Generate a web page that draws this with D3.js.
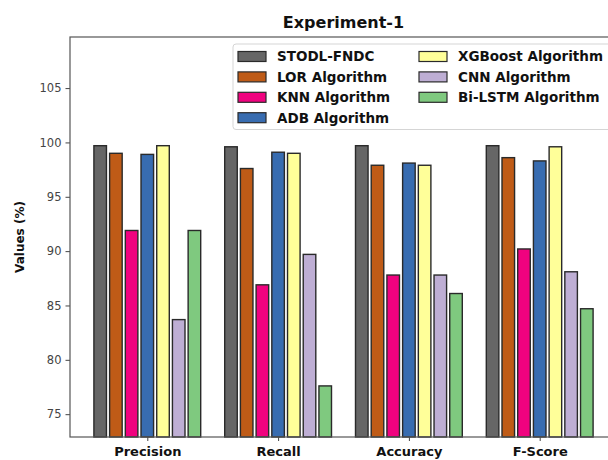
<!DOCTYPE html>
<html>
<head>
<meta charset="utf-8">
<script src="https://cdn.jsdelivr.net/npm/d3@7"></script>
<style>
  body { margin: 0; background: #fff; }
  svg { display: block; font-family: "DejaVu Sans", sans-serif; }
</style>
</head>
<body>
<svg id="chart" width="608" height="460"></svg>
<script>
const categories = ['Precision', 'Recall', 'Accuracy', 'F-Score'];
const seriesNames = ['STODL-FNDC', 'LOR Algorithm', 'KNN Algorithm', 'ADB Algorithm',
                     'XGBoost Algorithm', 'CNN Algorithm', 'Bi-LSTM Algorithm'];
const colors = ['#666666', '#bf5b17', '#f0027f', '#386cb0', '#ffff99', '#beaed4', '#7fc97f'];
// values per series, in category order
const stodl   = [99.7, 99.6, 99.7, 99.7];
const lor     = [99.0, 97.6, 97.9, 98.6];
const knn     = [91.9, 86.9, 87.8, 90.2];
const adb     = [98.9, 99.1, 98.1, 98.3];
const xgboost = [99.7, 99.0, 97.9, 99.6];
const cnn     = [83.7, 89.7, 87.8, 88.1];
const bilstm  = [91.9, 77.6, 86.1, 84.7];
const yTicks  = [75, 80, 85, 90, 95, 100, 105];

const seriesValues = [stodl, lor, knn, adb, xgboost, cnn, bilstm];

const svg = d3.select('#chart');
const margin = {top: 37, left: 70, bottom: 437, right: 617};

const x = d3.scalePoint()
  .domain(categories)
  .range([margin.left, margin.right])
  .padding(0.591);

const inner = d3.scaleBand()
  .domain(seriesNames)
  .range([-53.4, 53.4])
  .paddingInner(0.2)
  .paddingOuter(0);

const y = d3.scaleLinear()
  .domain([72.9, 109.7])
  .range([margin.bottom, margin.top]);

// bars
const rows = [];
seriesNames.forEach((s, j) => {
  categories.forEach((c, i) => rows.push({series: s, cat: c, value: seriesValues[j][i], color: colors[j]}));
});

svg.append('g')
  .selectAll('rect')
  .data(rows)
  .enter().append('rect')
  .attr('x', d => x(d.cat) + inner(d.series))
  .attr('y', d => y(d.value))
  .attr('width', inner.bandwidth())
  .attr('height', d => y.range()[0] - y(d.value))
  .attr('fill', d => d.color)
  .attr('stroke', '#2a2a2a')
  .attr('stroke-width', 1.4);

// y axis
const yAxis = svg.append('g')
  .attr('transform', `translate(${margin.left},0)`)
  .call(d3.axisLeft(y).tickValues(yTicks).tickSize(4.5).tickPadding(4));
yAxis.select('.domain').remove();
yAxis.selectAll('text').attr('font-size', 11.5).attr('fill', '#444').attr('font-family', '"DejaVu Sans", sans-serif');
yAxis.selectAll('line').attr('stroke', '#444');

// x axis
const xAxis = svg.append('g')
  .attr('transform', `translate(0,${margin.bottom})`)
  .call(d3.axisBottom(x).tickSize(4).tickPadding(6));
xAxis.select('.domain').remove();
xAxis.selectAll('text')
  .attr('font-size', 13)
  .attr('font-weight', 'bold')
  .attr('fill', '#111')
  .attr('font-family', '"DejaVu Sans", sans-serif');
xAxis.selectAll('line').attr('stroke', '#444');

// spines
svg.append('rect')
  .attr('x', margin.left)
  .attr('y', margin.top)
  .attr('width', margin.right - margin.left)
  .attr('height', margin.bottom - margin.top)
  .attr('fill', 'none')
  .attr('stroke', '#555')
  .attr('stroke-width', 1.2);

// title
svg.append('text')
  .attr('x', (margin.left + margin.right) / 2)
  .attr('y', 28)
  .attr('text-anchor', 'middle')
  .attr('font-size', 16)
  .attr('font-weight', 'bold')
  .attr('fill', '#111')
  .text('Experiment-1');

// y label
svg.append('text')
  .attr('transform', `translate(24,${(margin.top + margin.bottom) / 2}) rotate(-90)`)
  .attr('text-anchor', 'middle')
  .attr('font-size', 12)
  .attr('font-weight', 'bold')
  .attr('fill', '#111')
  .text('Values (%)');

// legend
const legend = svg.append('g');
legend.append('rect')
  .attr('x', 233)
  .attr('y', 44)
  .attr('width', 400)
  .attr('height', 85.5)
  .attr('rx', 3)
  .attr('fill', '#fff')
  .attr('fill-opacity', 0.85)
  .attr('stroke', '#d5d5d5');

const legendItems = legend.selectAll('g.item')
  .data(seriesNames)
  .enter().append('g')
  .attr('class', 'item')
  .attr('transform', (d, i) => {
    const col = i < 4 ? 0 : 1;
    const row = i < 4 ? i : i - 4;
    return `translate(${238 + col * 181},${56.5 + row * 20.4})`;
  });

legendItems.append('rect')
  .attr('x', 0)
  .attr('y', -5)
  .attr('width', 28)
  .attr('height', 10)
  .attr('fill', (d, i) => colors[i])
  .attr('stroke', '#2a2a2a')
  .attr('stroke-width', 1.2);

legendItems.append('text')
  .attr('x', 39)
  .attr('y', 0)
  .attr('dy', '0.36em')
  .attr('font-size', 13.5)
  .attr('font-weight', 'bold')
  .attr('fill', '#111')
  .text(d => d);
</script>
</body>
</html>
